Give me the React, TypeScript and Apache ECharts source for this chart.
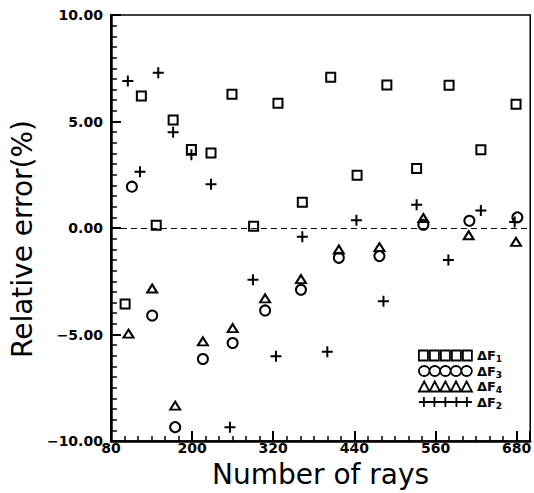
import React, { useEffect, useRef } from "react";
import * as echarts from "echarts";

const FONT = "DejaVu Sans";

// [x (number of rays), relative error %]
const seriesF1: [number, number][] = [
  [101, -3.57], [125, 6.2], [147, 0.13], [172, 5.07], [199, 3.69], [228, 3.52],
  [259, 6.28], [291, 0.08], [327, 5.86], [363, 1.21], [405, 7.08], [444, 2.48],
  [488, 6.71], [532, 2.79], [580, 6.7], [627, 3.67], [679, 5.81],
];
const seriesF3: [number, number][] = [
  [111, 1.94], [141, -4.11], [175, -9.35], [216, -6.15], [260, -5.4], [308, -3.87],
  [361, -2.9], [417, -1.4], [477, -1.32], [542, 0.15], [610, 0.34], [681, 0.5],
];
const seriesF4: [number, number][] = [
  [106, -4.96], [141, -2.84], [175, -8.34], [216, -5.32], [260, -4.7], [308, -3.3],
  [361, -2.4], [417, -1.01], [477, -0.9], [542, 0.47], [609, -0.34], [679, -0.65],
];
const seriesF2: [number, number][] = [
  [105, 6.9], [123, 2.64], [150, 7.29], [172, 4.5], [199, 3.44], [228, 2.05],
  [256, -9.35], [290, -2.43], [324, -6.02], [363, -0.41], [400, -5.81], [443, 0.36],
  [483, -3.44], [532, 1.09], [579, -1.5], [627, 0.82], [677, 0.28],
];

const legendNames = ["ΔF1", "ΔF3", "ΔF4", "ΔF2"];

const CROSS = "path://M5,0V10M0,5H10";
const ICON_SQ =
  "path://M0,0H9V10H0Z M11,0H20V10H11Z M22,0H31V10H22Z M33,0H42V10H33Z M44,0H53V10H44Z";
const ICON_CI =
  "path://M0,5a5.3,5 0 1,0 10.6,0a5.3,5 0 1,0 -10.6,0Z M10.6,5a5.3,5 0 1,0 10.6,0a5.3,5 0 1,0 -10.6,0Z M21.2,5a5.3,5 0 1,0 10.6,0a5.3,5 0 1,0 -10.6,0Z M31.8,5a5.3,5 0 1,0 10.6,0a5.3,5 0 1,0 -10.6,0Z M42.4,5a5.3,5 0 1,0 10.6,0a5.3,5 0 1,0 -10.6,0Z";
const ICON_TR =
  "path://M0,10L5.3,0L10.6,10Z M10.6,10L15.9,0L21.2,10Z M21.2,10L26.5,0L31.8,10Z M31.8,10L37.1,0L42.4,10Z M42.4,10L47.7,0L53,10Z";
const ICON_CR =
  "path://M0,5H53 M5,0V10 M15.5,0V10 M26.5,0V10 M37.5,0V10 M48,0V10";

const hollow = { color: "rgba(0,0,0,0)", borderColor: "#000", borderWidth: 2, opacity: 1 };
const legendItem = { color: "rgba(0,0,0,0)", borderColor: "#000", borderWidth: 1.8, opacity: 1 };

export default function App() {
  const ref = useRef<HTMLDivElement>(null);
  useEffect(() => {
    if (!ref.current) return;
    const chart = echarts.init(ref.current, undefined, { renderer: "svg" });
    const labelStyle = {
      color: "#000",
      fontFamily: FONT,
      fontWeight: "bold" as const,
      fontSize: 14,
    };
    chart.setOption({
      animation: false,
      backgroundColor: "#fff",
      grid: {
        left: 101,
        right: 2,
        top: 15,
        bottom: 48,
        show: true,
        borderColor: "#000",
        borderWidth: 1.5,
      },
      legend: {
        orient: "vertical",
        left: 413,
        top: 344,
        itemWidth: 53,
        itemHeight: 10,
        itemGap: 1,
        selectedMode: false,
        textStyle: {
          color: "#000",
          fontFamily: FONT,
          fontWeight: "bold",
          fontSize: 13,
          rich: {
            s: { fontSize: 9, fontWeight: "bold", fontFamily: FONT, color: "#000", padding: [7, 0, 0, 0] },
          },
        },
        formatter: (n: string) => "ΔF{s|" + n.slice(2) + "}",
        data: [
          { name: legendNames[0], icon: ICON_SQ, itemStyle: legendItem },
          { name: legendNames[1], icon: ICON_CI, itemStyle: legendItem },
          { name: legendNames[2], icon: ICON_TR, itemStyle: legendItem },
          { name: legendNames[3], icon: ICON_CR, itemStyle: legendItem },
        ],
      },
      xAxis: [
        {
          type: "value",
          min: 80,
          max: 700,
          interval: 120,
          position: "bottom",
          name: "Number of rays",
          nameLocation: "middle",
          nameGap: 19,
          nameTextStyle: { color: "#000", fontFamily: FONT, fontSize: 28, verticalAlign: "top" },
          axisLine: { onZero: false, lineStyle: { color: "#000", width: 2.5 } },
          axisTick: { inside: true, length: 10, lineStyle: { color: "#000", width: 2 } },
          axisLabel: {
            ...labelStyle,
            margin: 0,
            formatter: (v: number) => (v === 700 ? "" : String(v)),
          },
          splitLine: { show: false },
        },
        {
          type: "value",
          min: 80,
          max: 700,
          interval: 20,
          position: "bottom",
          axisLine: { show: false, onZero: false },
          axisTick: { inside: true, length: 5, lineStyle: { color: "#000", width: 1.5 } },
          axisLabel: { show: false },
          splitLine: { show: false },
        },
      ],
      yAxis: {
        type: "value",
        min: -10,
        max: 10,
        interval: 5,
        name: "Relative error(%)",
        nameLocation: "middle",
        nameGap: 62,
        nameRotate: 90,
        nameTextStyle: { color: "#000", fontFamily: FONT, fontSize: 28, padding: [0, 22, 0, 0] },
        axisLine: { onZero: false, lineStyle: { color: "#000", width: 2.5 } },
        axisTick: { inside: true, length: 10, lineStyle: { color: "#000", width: 2 } },
        minorTick: { show: true, splitNumber: 10, length: 6, lineStyle: { color: "#000", width: 1.5 } },
        axisLabel: {
          ...labelStyle,
          margin: 8,
          formatter: (v: number) => (v < 0 ? "−" : "") + Math.abs(v).toFixed(2),
        },
        splitLine: { show: false },
        minorSplitLine: { show: false },
      },
      series: [
        {
          name: legendNames[0],
          type: "scatter",
          data: seriesF1,
          symbol: "rect",
          symbolSize: 9,
          itemStyle: hollow,
          markLine: {
            silent: true,
            symbol: ["none", "none"],
            label: { show: false },
            lineStyle: { type: [6, 4], color: "#000", width: 1.2, opacity: 1 },
            data: [{ yAxis: 0 }],
          },
        },
        {
          name: legendNames[1],
          type: "scatter",
          data: seriesF3,
          symbol: "circle",
          symbolSize: 10,
          itemStyle: hollow,
        },
        {
          name: legendNames[2],
          type: "scatter",
          data: seriesF4,
          symbol: "triangle",
          symbolSize: [10, 8],
          itemStyle: hollow,
        },
        {
          name: legendNames[3],
          type: "scatter",
          data: seriesF2,
          symbol: CROSS,
          symbolSize: 11,
          itemStyle: hollow,
        },
      ],
    });
    return () => chart.dispose();
  }, []);
  return (
    <div
      ref={ref}
      style={{ position: "fixed", left: 0, top: 0, width: 534, height: 493, background: "#fff" }}
    />
  );
}
